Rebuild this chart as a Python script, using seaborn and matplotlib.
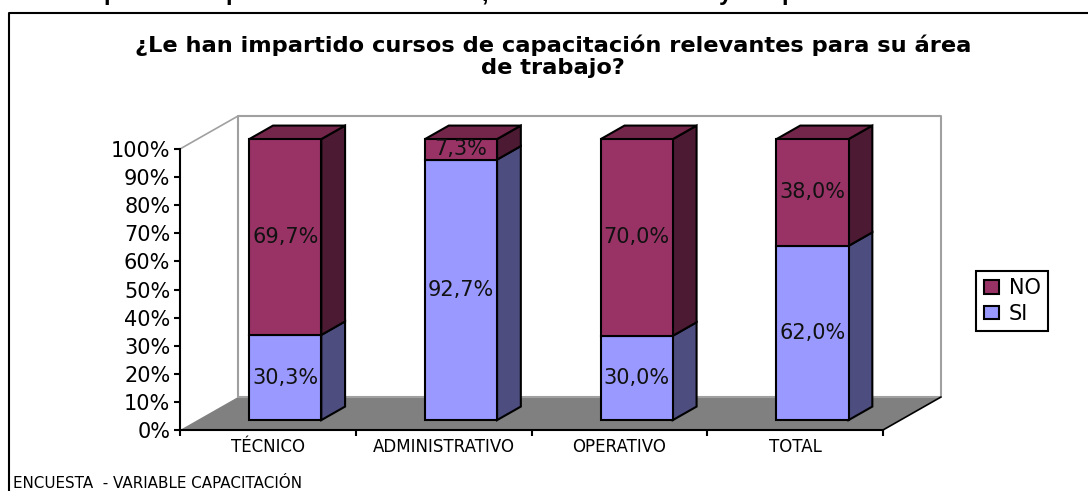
import matplotlib
matplotlib.use("Agg")
import matplotlib.pyplot as plt
import seaborn as sns
from matplotlib.lines import Line2D
from matplotlib.patches import Patch, Polygon
from matplotlib.transforms import Affine2D

# values
categories = ["TÉCNICO", "ADMINISTRATIVO", "OPERATIVO", "TOTAL"]
si_values = [30.3, 92.7, 30.0, 62.0]
no_values = [69.7, 7.3, 70.0, 38.0]
y_ticks = [0, 10, 20, 30, 40, 50, 60, 70, 80, 90, 100]

W, H = 1088, 491
SI_COLOR = "#9999FF"
SI_SIDE = "#4D4D80"
NO_COLOR = "#993366"
NO_SIDE = "#4D1A33"
NO_TOP = "#732649"

# oblique depth of the 3D look, in data units
DEPTH_X = 0.33
DEPTH_Y = 11.74
BAR_D0 = 0.30
BAR_D1 = 0.71
BAR_W = 0.41
LABEL_SIZE = 15
EDGE = 1.5


def project(x, y, d):
    return (x + d * DEPTH_X, y + d * DEPTH_Y)


sns.set_theme(style="white")
plt.rcParams["font.family"] = ["DejaVu Sans"]

fig = plt.figure(figsize=(W / 100, H / 100), dpi=100)
ax = fig.add_axes([180 / W, 1 - 430 / H, (883 - 180) / W, (430 - 149) / H])
ax.patch.set_visible(False)

# wall and floor
x0, x1 = -0.5, 3.5
floor = Polygon([project(x0, 0, 0), project(x1, 0, 0), project(x1, 0, 1), project(x0, 0, 1)],
                closed=True, facecolor="#808080", edgecolor="none", clip_on=False, zorder=1)
ax.add_patch(floor)
ax.plot(*zip(project(x0, 0, 1), project(x0, 100, 1), project(x1, 100, 1), project(x1, 0, 1), project(x0, 0, 1)),
        color="#A0A0A0", lw=1.5, clip_on=False, zorder=1.1)
ax.plot(*zip(project(x0, 100, 0), project(x0, 100, 1)), color="#A0A0A0", lw=1.2, clip_on=False, zorder=1.1)
ax.plot(*zip(project(x1, 0, 0), project(x1, 0, 1)), color="black", lw=1.2, clip_on=False, zorder=1.2)

# front faces
sns.barplot(x=categories, y=si_values, color=SI_COLOR, saturation=1, width=BAR_W,
            edgecolor="black", linewidth=EDGE, ax=ax, zorder=3)
sns.barplot(x=categories, y=no_values, bottom=si_values, color=NO_COLOR, saturation=1, width=BAR_W,
            edgecolor="black", linewidth=EDGE, ax=ax, zorder=3)
shift = Affine2D().translate(BAR_D0 * DEPTH_X, BAR_D0 * DEPTH_Y) + ax.transData
for bar in ax.patches:
    if bar is not floor:
        bar.set_transform(shift)
        bar.set_clip_on(False)

# side and top faces
for i in range(len(categories)):
    r = i + BAR_W / 2
    l = i - BAR_W / 2
    si = si_values[i]
    no = no_values[i]
    for low, high, col in [(0, si, SI_SIDE), (si, si + no, NO_SIDE)]:
        ax.add_patch(Polygon([project(r, low, BAR_D0), project(r, low, BAR_D1),
                              project(r, high, BAR_D1), project(r, high, BAR_D0)],
                             closed=True, facecolor=col, edgecolor="black", lw=EDGE,
                             clip_on=False, zorder=2.5))
    ax.add_patch(Polygon([project(l, si + no, BAR_D0), project(r, si + no, BAR_D0),
                          project(r, si + no, BAR_D1), project(l, si + no, BAR_D1)],
                         closed=True, facecolor=NO_TOP, edgecolor="black", lw=EDGE,
                         clip_on=False, zorder=2.5))
    ax.text(i, si / 2, f"{si:.1f}%".replace(".", ","), transform=shift, ha="center", va="center",
            fontsize=LABEL_SIZE, color="#111111", zorder=5)
    ax.text(i, si + no / 2, f"{no:.1f}%".replace(".", ","), transform=shift, ha="center", va="center",
            fontsize=LABEL_SIZE, color="#111111", zorder=5)

ax.set_xlim(x0, x1)
ax.set_ylim(0, 100)
ax.set_yticks(y_ticks)
ax.set_yticklabels([f"{t}%" for t in y_ticks], fontsize=LABEL_SIZE, color="black")
ax.set_xticks(range(len(categories)))
ax.set_xticklabels(categories, fontsize=12, color="black")
ax.set_xticks([-0.5, 0.5, 1.5, 2.5, 3.5], minor=True)
ax.tick_params(axis="x", which="major", length=0, pad=6)
ax.tick_params(axis="x", which="minor", length=4, width=1.5, color="black", bottom=True)
ax.tick_params(axis="y", length=4, width=1.5, color="black", left=True, pad=3)
for side in ["top", "right"]:
    ax.spines[side].set_visible(False)
for side in ["left", "bottom"]:
    ax.spines[side].set_color("black")
    ax.spines[side].set_linewidth(1.5)
    ax.spines[side].set_zorder(4)

# legend
handles = [Patch(facecolor=NO_COLOR, edgecolor="black", lw=EDGE, label="NO"),
           Patch(facecolor=SI_COLOR, edgecolor="black", lw=EDGE, label="SI")]
leg = ax.legend(handles=handles, loc="center", bbox_to_anchor=(1012 / W, 1 - 301 / H),
                bbox_transform=fig.transFigure, fontsize=LABEL_SIZE, fancybox=False, framealpha=1,
                edgecolor="black", handlelength=0.75, handleheight=0.6, handletextpad=0.45,
                labelspacing=0.25, borderpad=0.35, borderaxespad=0)
leg.get_frame().set_linewidth(EDGE)
for txt in leg.get_texts():
    txt.set_color("black")

# titles and frame
fig.text(553 / W, 1 - 56 / H, "¿Le han impartido cursos de capacitación relevantes para su área\nde trabajo?",
         ha="center", va="center", fontsize=16.2, fontweight="bold", color="black", linespacing=1.1)
fig.text(13 / W, 1 - 484 / H, "ENCUESTA  - VARIABLE CAPACITACIÓN", ha="left", va="center",
         fontsize=10.9, color="black")

# bits of the slide title cut off at the top edge
for ch, px in [("p", 103), ("p", 225), (",", 481), ("y", 719), ("p", 781)]:
    fig.text(px / W, 1.0, ch, ha="left", va="baseline", fontsize=17, fontweight="bold",
             family="Liberation Sans", color="black")

fig.add_artist(Line2D([9 / W, 9 / W, 1], [0, 1 - 13 / H, 1 - 13 / H], color="black", lw=1.5,
                      transform=fig.transFigure))

fig.savefig("out.png", dpi=100)
